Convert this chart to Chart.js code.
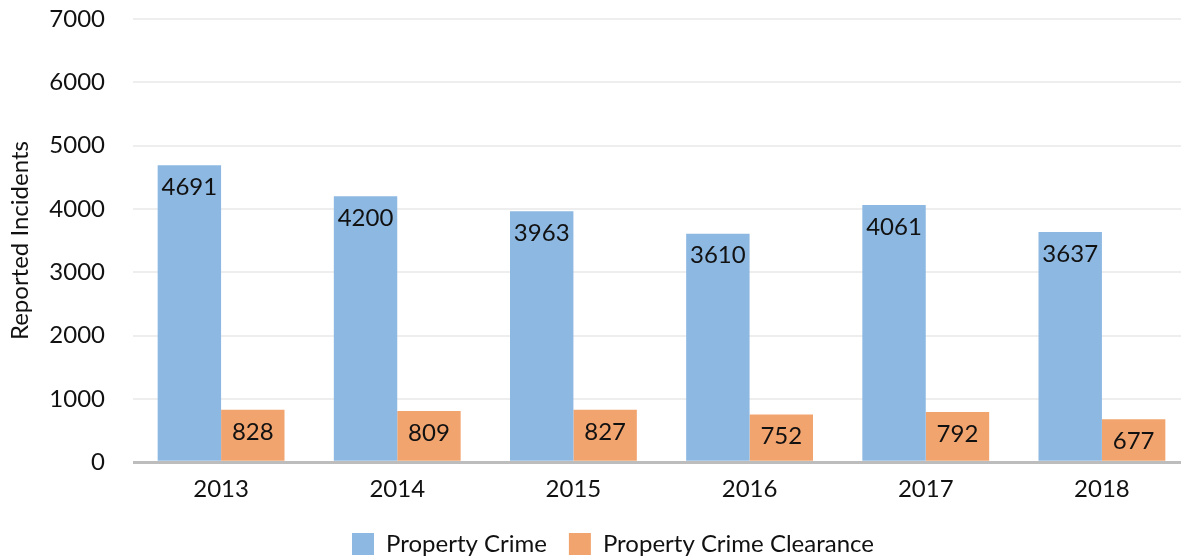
<!DOCTYPE html>
<html>
<head>
<meta charset="utf-8">
<script src="https://cdn.jsdelivr.net/npm/chart.js@4"></script>
<style>
html, body { margin: 0; padding: 0; background: #fff; overflow: hidden; }
#wrap { width: 1190px; height: 560px; }
</style>
</head>
<body>
<div id="wrap"><canvas id="chart" width="1190" height="560"></canvas></div>
<script>
const years = ['2013', '2014', '2015', '2016', '2017', '2018'];
const propertyCrime = [4691, 4200, 3963, 3610, 4061, 3637];
const clearance = [828, 809, 827, 752, 792, 677];

Chart.defaults.font.family = 'Lato, "Noto Sans", sans-serif';
Chart.defaults.font.size = 24;
Chart.defaults.color = '#111';

// value labels drawn inside the top of each bar
const barLabels = {
  id: 'barLabels',
  afterLayout(chart) {
    // nudge legend a bit right and down, like the original
    chart.legend.left += 30;
    chart.legend.top += 1;
  },
  afterDatasetsDraw(chart) {
    const c = chart.ctx;
    c.save();
    c.font = '24px Lato, "Noto Sans", sans-serif';
    c.fillStyle = '#111';
    c.textAlign = 'center';
    c.textBaseline = 'middle';
    chart.data.datasets.forEach((ds, i) => {
      chart.getDatasetMeta(i).data.forEach((bar, j) => {
        c.fillText(ds.data[j], bar.x, bar.y + 22);
      });
    });
    c.restore();
  }
};

new Chart(document.getElementById('chart'), {
  type: 'bar',
  data: {
    labels: years,
    datasets: [
      { label: 'Property Crime', data: propertyCrime, backgroundColor: '#8db8e2' },
      { label: 'Property Crime Clearance', data: clearance, backgroundColor: '#f2a46f' }
    ]
  },
  options: {
    responsive: false,
    animation: false,
    layout: { padding: { top: 0, left: 6, bottom: -5 } },
    datasets: { bar: { categoryPercentage: 0.72, barPercentage: 1 } },
    scales: {
      x: {
        grid: { display: false },
        border: { display: false },
        ticks: { font: { size: 24 }, padding: 5 }
      },
      y: {
        min: 0, max: 7000,
        ticks: { stepSize: 1000, font: { size: 24 }, padding: 28, callback: v => String(v) },
        grid: {
          drawTicks: false,
          lineWidth: ctx => ctx.tick.value === 0 ? 3 : 2,
          color: ctx => ctx.tick.value === 0 ? '#bdbdbd' : '#eeeeee'
        },
        border: { display: false },
        title: { display: true, text: 'Reported Incidents', font: { size: 24 }, padding: 0 },
        afterFit(s) {
          s.width = 127;
          s.paddingTop = 19;
          s.paddingBottom = 12;
        }
      }
    },
    plugins: {
      legend: {
        position: 'bottom',
        labels: { boxWidth: 22, boxHeight: 22, font: { size: 24 }, padding: 22, color: '#111' }
      },
      tooltip: { enabled: false }
    }
  },
  plugins: [barLabels]
});
</script>
</body>
</html>
